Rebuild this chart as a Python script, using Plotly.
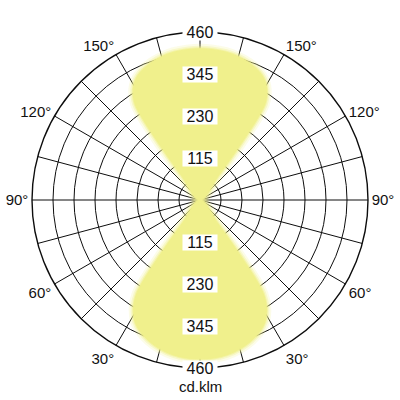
import plotly.graph_objects as go

# Half-profile angles (deg away from lobe axis) and intensities (cd/klm)
profile_angles = [0, 5, 10, 15, 20, 25, 28, 30, 32, 34, 35, 36, 37, 38]
lower_lobe = [435, 434, 430, 422, 410, 393, 378, 362, 342, 310, 270, 180, 80, 0]   # around 0°
upper_lobe = [414, 413, 411, 406, 398, 386, 374, 362, 345, 318, 280, 190, 85, 0]   # around 180°

ring_values = [57.5, 115, 172.5, 230, 287.5, 345, 402.5, 460]
label_values = [115, 230, 345, 460]
r_max = 460
spoke_angles = list(range(0, 360, 15))
angle_labels = {30: "30°", 60: "60°", 90: "90°", 120: "120°", 150: "150°",
                210: "150°", 240: "120°", 270: "90°", 300: "60°", 330: "30°"}
unit_label = "cd.klm"

FILL = "rgb(240,240,140)"
FONT = "Liberation Sans, Arial, sans-serif"
LINE = "#0d0d0d"


def lobe(center, values):
    th = [center - a for a in reversed(profile_angles)] + [center + a for a in profile_angles[1:]]
    r = list(reversed(values)) + values[1:]
    return [t % 360 for t in th], r


fig = go.Figure()
for center, vals in [(0, lower_lobe), (180, upper_lobe)]:
    th, r = lobe(center, vals)
    # soft halo layers to imitate the blurred edge
    for w, a in [(10, 0.2), (6, 0.35), (3, 0.6)]:
        fig.add_trace(go.Scatterpolar(r=r, theta=th, mode="lines",
                                      line=dict(color=f"rgba(240,240,140,{a})", width=w, shape="spline"),
                                      hoverinfo="skip", showlegend=False))
    fig.add_trace(go.Scatterpolar(r=r, theta=th, mode="lines", fill="toself",
                                  fillcolor=FILL, line=dict(color=FILL, width=1, shape="spline"),
                                  hoverinfo="skip", showlegend=False))

fig.update_layout(
    width=400, height=400,
    margin=dict(l=32, r=32, t=32, b=32),
    paper_bgcolor="white",
    showlegend=False,
    font=dict(family=FONT, size=15, color="#111"),
    polar=dict(
        domain=dict(x=[0, 1], y=[0, 1]),
        bgcolor="white",
        radialaxis=dict(range=[0, r_max], tickvals=ring_values, showticklabels=False,
                        ticks="", showline=False, gridcolor=LINE, gridwidth=1.3,
                        layer="above traces"),
        angularaxis=dict(rotation=-90, direction="clockwise",
                         tickvals=spoke_angles,
                         ticktext=[angle_labels.get(a, "") for a in spoke_angles],
                         ticks="", showline=True, linecolor=LINE, linewidth=1.4,
                         gridcolor=LINE, gridwidth=1.3, layer="above traces",
                         tickfont=dict(family=FONT, size=15, color="#111")),
    ),
)

annotations = []
for v in label_values:
    for sign in (1, -1):
        annotations.append(dict(xref="paper", yref="paper", x=0.5, y=0.5 + sign * 0.5 * v / r_max,
                                text=str(v), showarrow=False, bgcolor="white",
                                width=34, height=15, borderpad=0,
                                font=dict(family=FONT, size=16, color="#111"),
                                xanchor="center", yanchor="middle"))
annotations.append(dict(xref="paper", yref="paper", x=0.5, y=-0.054, text=unit_label,
                        showarrow=False, font=dict(family=FONT, size=15, color="#111"),
                        xanchor="center", yanchor="middle"))
fig.update_layout(annotations=annotations)

# remove the default 8px page margin so the 400x400 figure fills the window
fig.write_html("out.html", config={"displayModeBar": False},
               post_script="document.body.style.margin='0';document.body.style.overflow='hidden';")
